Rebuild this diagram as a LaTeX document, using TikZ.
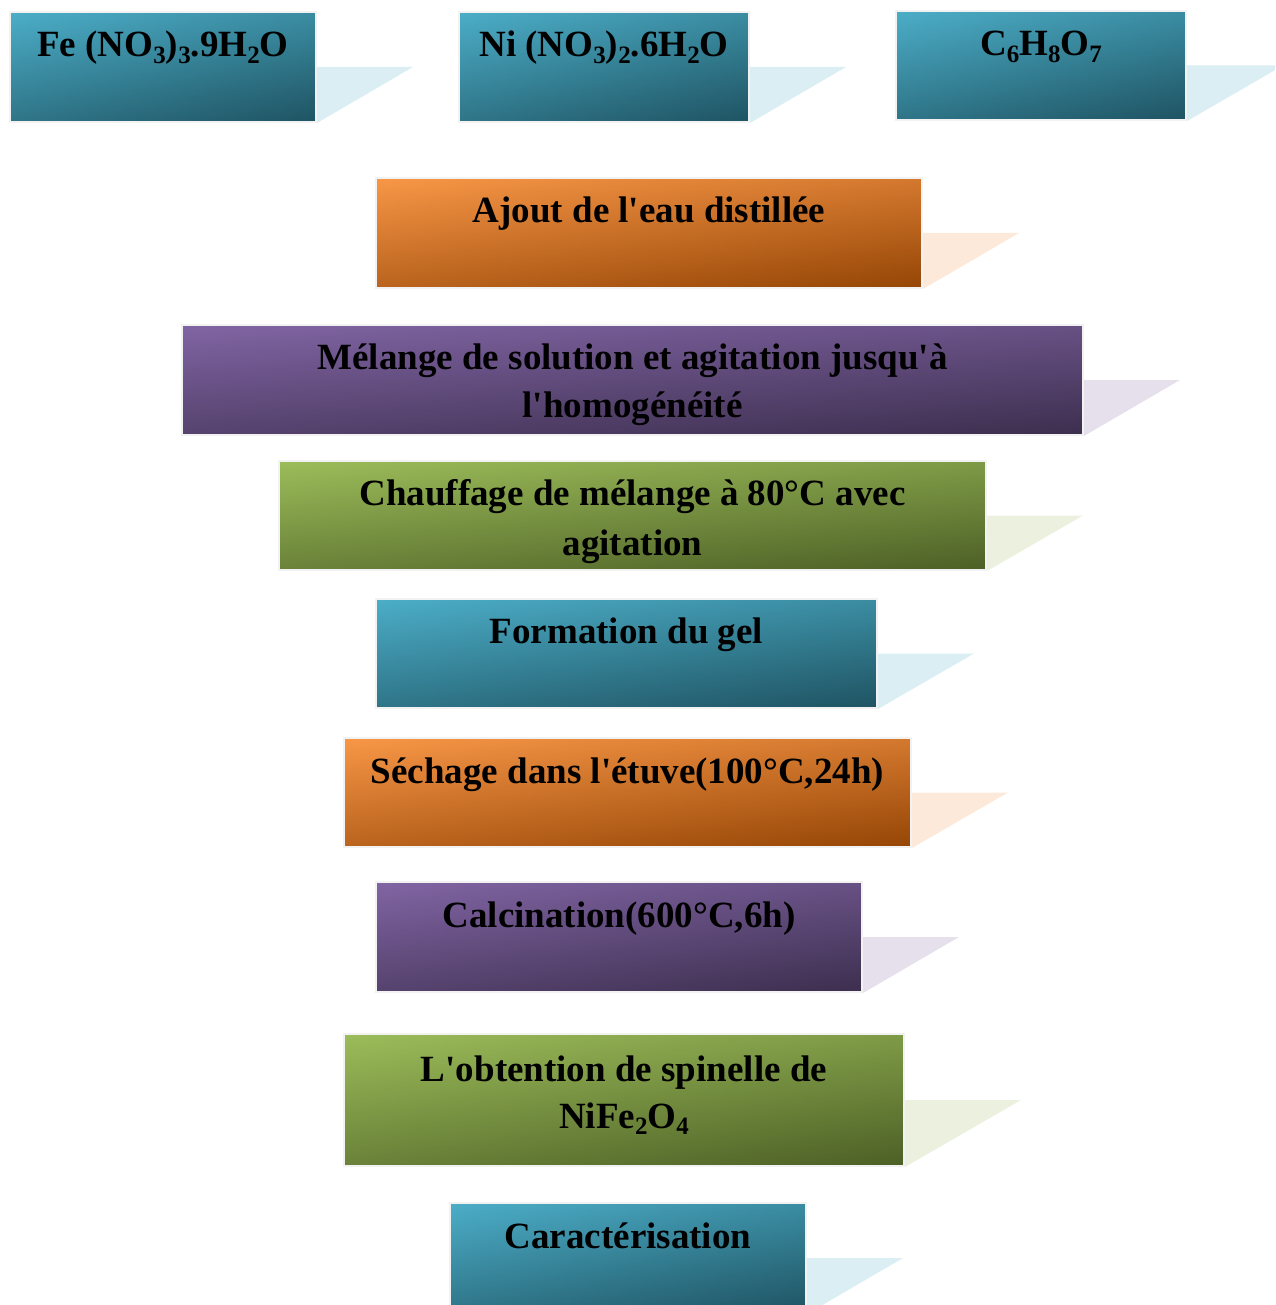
\documentclass[tikz,border=0pt]{standalone}
\usepackage{fontspec}
\setmainfont{Liberation Serif}[Ligatures=TeXOff]
\usetikzlibrary{calc}
\definecolor{tealL}{RGB}{76,174,200}
\definecolor{tealD}{RGB}{31,84,99}
\definecolor{tealP}{RGB}{218,238,243}
\definecolor{orL}{RGB}{248,151,71}
\definecolor{orD}{RGB}{150,70,6}
\definecolor{orP}{RGB}{253,233,217}
\definecolor{puL}{RGB}{129,101,164}
\definecolor{puD}{RGB}{61,47,79}
\definecolor{puP}{RGB}{229,224,236}
\definecolor{grL}{RGB}{156,189,90}
\definecolor{grD}{RGB}{77,96,38}
\definecolor{grP}{RGB}{235,241,222}
\definecolor{frame}{RGB}{242,242,242}
\newcommand\chsub[1]{\raisebox{-0.18em}{\fontsize{25}{25}\selectfont #1}}
\tikzset{
  stepbox/.style 2 args={rectangle, inner sep=0pt, draw=frame, line width=2pt,
    top color=#1, bottom color=#2,
    path picture={\shade[left color=#1, right color=#2, fill opacity=0.37]
      (path picture bounding box.south west) rectangle (path picture bounding box.north east);}},
  tealbox/.style={stepbox={tealL}{tealD}},
  orbox/.style={stepbox={orL}{orD}},
  pubox/.style={stepbox={puL}{puD}},
  grbox/.style={stepbox={grL}{grD}},
  txt/.style={anchor=base, inner sep=0pt, font=\fontsize{37}{49}\selectfont\bfseries},
}
% #1 box name, #2 colour, #3 flap width
\newcommand\flap[3]{\fill[#2] (#1.east) -- ++(#3,0) -- (#1.south east) -- cycle;}
\begin{document}
\begin{tikzpicture}[x=1pt,y=-1pt]
\useasboundingbox (0,0) rectangle (1275,1305);
\clip (0,0) rectangle (1275,1305);
% row of reagents
\node[tealbox, minimum width=306, minimum height=110] (b1) at (163,67) {};
\flap{b1}{tealP}{96}
\node[txt] (t1) at ($(b1.north)+(0,46)$) {Fe (NO\chsub{3})\chsub{3}.9H\chsub{2}O};
\node[tealbox, minimum width=290, minimum height=110] (b2) at (604,67) {};
\flap{b2}{tealP}{96}
\node[txt] (t2) at ($(b2.north)+(0,46)$) {Ni (NO\chsub{3})\chsub{2}.6H\chsub{2}O};
\node[tealbox, minimum width=290, minimum height=109] (b3) at (1041,65.5) {};
\flap{b3}{tealP}{96}
\node[txt] (t3) at ($(b3.north)+(0,46)$) {C\chsub{6}H\chsub{8}O\chsub{7}};
% steps
\node[orbox, minimum width=546, minimum height=110] (b4) at (649,233) {};
\flap{b4}{orP}{96}
\node[txt] (t4) at ($(b4.north)+(0,46)$) {Ajout de l'eau distillée};
\node[pubox, minimum width=901, minimum height=110] (b5) at (632.5,380) {};
\flap{b5}{puP}{96}
\node[txt] (t5a) at ($(b5.north)+(0,45)$) {Mélange de solution et agitation jusqu'à};
\node[txt] (t5b) at ($(b5.north)+(0,93)$) {l'homogénéité};
\node[grbox, minimum width=707, minimum height=109] (b6) at (632.5,515.5) {};
\flap{b6}{grP}{96}
\node[txt] (t6a) at ($(b6.north)+(0,45)$) {Chauffage de mélange à 80°C avec};
\node[txt] (t6b) at ($(b6.north)+(0,95)$) {agitation};
\node[tealbox, minimum width=501, minimum height=109] (b7) at (626.5,653.5) {};
\flap{b7}{tealP}{96}
\node[txt] (t7) at ($(b7.north)+(0,45)$) {Formation du gel};
\node[orbox, minimum width=567, minimum height=109] (b8) at (627.5,792.5) {};
\flap{b8}{orP}{96}
\node[txt] (t8) at ($(b8.north)+(0,46)$) {Séchage dans l'étuve(100°C,24h)};
\node[pubox, minimum width=486, minimum height=110] (b9) at (619,937) {};
\flap{b9}{puP}{96}
\node[txt] (t9) at ($(b9.north)+(0,46)$) {Calcination(600°C,6h)};
\node[grbox, minimum width=560, minimum height=132] (b10) at (624,1100) {};
\flap{b10}{grP}{116}
\node[txt] (t10a) at ($(b10.north)+(0,48)$) {L'obtention de spinelle de};
\node[txt] (t10b) at ($(b10.north)+(0,95)$) {NiFe\chsub{2}O\chsub{4}};
\node[tealbox, minimum width=356, minimum height=110] (b11) at (628,1258) {};
\flap{b11}{tealP}{96}
\node[txt] (t11) at ($(b11.north)+(0,46)$) {Caractérisation};
\end{tikzpicture}
\end{document}
